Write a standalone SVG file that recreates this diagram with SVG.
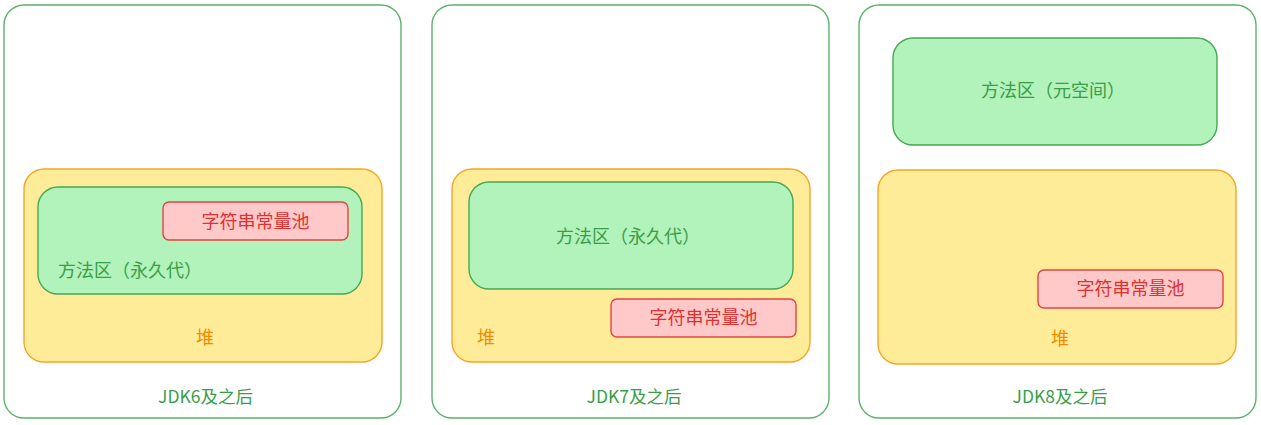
<svg xmlns="http://www.w3.org/2000/svg" width="1261" height="425" viewBox="0 0 1261 425">
<style>
.outer{fill:#ffffff;stroke:#5cb36a;stroke-width:1.4}
.heap{fill:#ffec99;stroke:#f5a623;stroke-width:1.4}
.meta{fill:#b2f2bb;stroke:#45a852;stroke-width:1.4}
.pool{fill:#ffc9c9;stroke:#e04545;stroke-width:1.4}
text{font-family:"Noto Sans CJK SC","Noto Sans",sans-serif;font-size:18px;dominant-baseline:central}
.tg{fill:#3a9e48}
.tr{fill:#e03131}
.to{fill:#f08c00}
.m{text-anchor:middle}
.lbl{font-size:17.5px}
</style>
<rect width="1261" height="425" fill="#ffffff"/>
<g id="jdk6">
<rect class="outer" x="4" y="5" width="397" height="413" rx="20"/>
<text class="tg m lbl" x="205.5" y="395">JDK6及之后</text>
</g>
<g id="heap6">
<rect class="heap" x="24" y="169" width="358" height="193" rx="20"/>
<text class="to m" x="205" y="336">堆</text>
</g>
<g id="perm6">
<rect class="meta" x="38" y="187" width="324" height="107" rx="20"/>
<text class="tg" x="58" y="269">方法区（永久代）</text>
</g>
<g id="pool6">
<rect class="pool" x="163" y="202" width="185" height="38" rx="6"/>
<text class="tr m" x="255.5" y="220">字符串常量池</text>
</g>
<g id="jdk7">
<rect class="outer" x="432" y="5" width="397" height="413" rx="20"/>
<text class="tg m lbl" x="634" y="395">JDK7及之后</text>
</g>
<g id="heap7">
<rect class="heap" x="452" y="169" width="358" height="193" rx="20"/>
<text class="to" x="477" y="336">堆</text>
</g>
<g id="perm7">
<rect class="meta" x="469" y="182" width="324" height="107" rx="20"/>
<text class="tg m" x="628" y="235">方法区（永久代）</text>
</g>
<g id="pool7">
<rect class="pool" x="611" y="299" width="185" height="38" rx="6"/>
<text class="tr m" x="703.5" y="316">字符串常量池</text>
</g>
<g id="jdk8">
<rect class="outer" x="859" y="5" width="397" height="413" rx="20"/>
<text class="tg m lbl" x="1060" y="395">JDK8及之后</text>
</g>
<g id="meta8">
<rect class="meta" x="893" y="38" width="324" height="107" rx="20"/>
<text class="tg m" x="1053" y="89">方法区（元空间）</text>
</g>
<g id="heap8">
<rect class="heap" x="878" y="170" width="358" height="194" rx="20"/>
<text class="to m" x="1060" y="337">堆</text>
</g>
<g id="pool8">
<rect class="pool" x="1038" y="270" width="185" height="38" rx="6"/>
<text class="tr m" x="1130.5" y="287">字符串常量池</text>
</g>
<g id="connectors"></g>
</svg>
